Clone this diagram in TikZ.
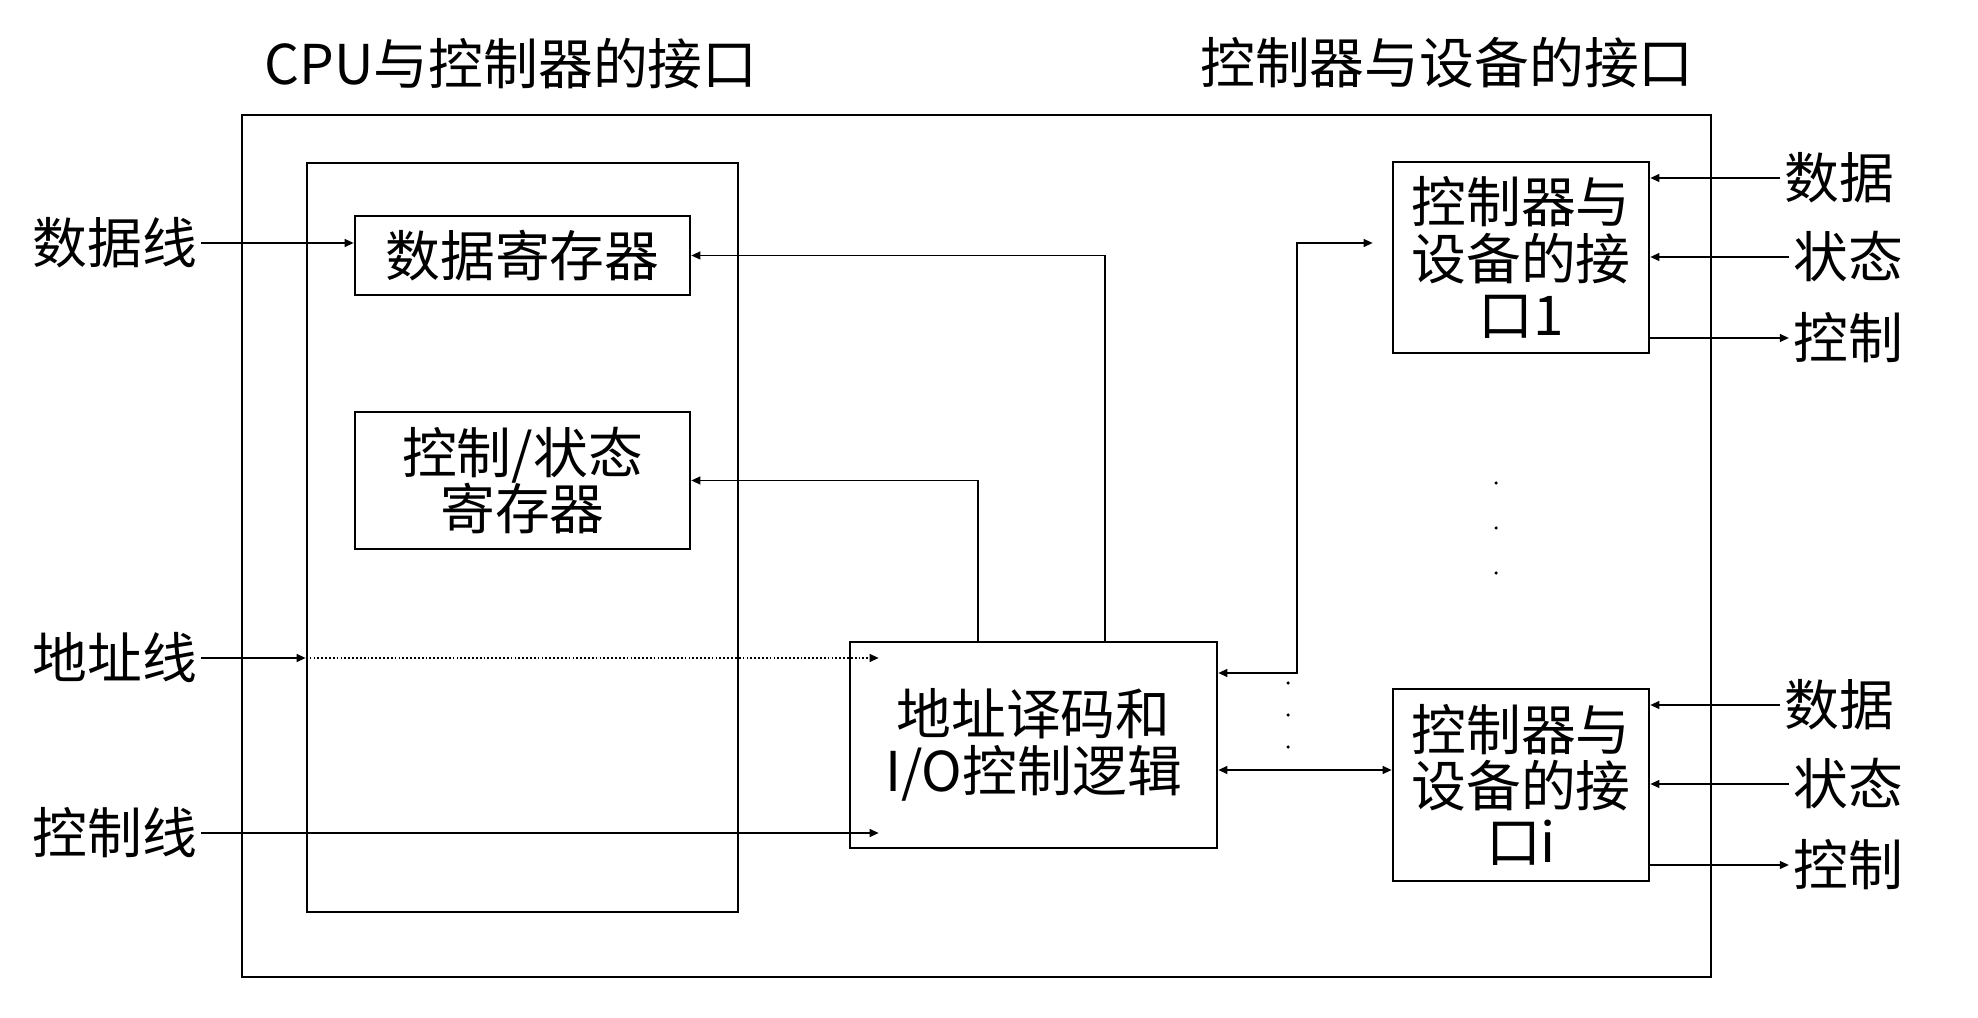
\documentclass[tikz,border=0pt]{standalone}
\usepackage{fontspec}
\setmainfont{Noto Sans CJK SC}
\usepackage{tikz}
\usetikzlibrary{arrows.meta, positioning, calc}
\tikzstyle{block} = [rectangle, draw=black, fill=none, line width=0.7pt, inner sep=2pt, align=center, font=\fontsize{15.6pt}{16pt}\selectfont]
\tikzstyle{heading} = [inner sep=1pt, font=\fontsize{15.6pt}{16pt}\selectfont]
\tikzstyle{siglabel} = [inner sep=1pt, font=\fontsize{15.6pt}{16pt}\selectfont]
\tikzstyle{arrow} = [line width=0.55pt, -{Triangle[length=2.6pt,width=2.2pt]}]
\tikzstyle{biarrow} = [line width=0.55pt, {Triangle[length=2.6pt,width=2.2pt]}-{Triangle[length=2.6pt,width=2.2pt]}]

\begin{document}
\begin{tikzpicture}[x=0.1mm, y=0.1mm]
        \useasboundingbox (0,0) rectangle (1978,1018);

        % --- titles ---
        \node [heading] (cputitle) at (511,954) {CPU与控制器的接口};
        \node [heading] (devtitle) at (1447,955) {控制器与设备的接口};

        % --- controller frame ---
        \node [block, minimum width=14.69cm, minimum height=8.62cm] (ctrl) at (976.5,472) {};
        \node [block, minimum width=4.31cm, minimum height=7.49cm] (cpuside) at (522.5,480.5) {};

        % --- registers ---
        \node [block, minimum width=3.35cm, minimum height=0.79cm] (datareg) at (522.5,762.5) {数据寄存器};
        \node [block, minimum width=3.35cm, minimum height=1.37cm] (ctrlreg) at (522.5,537.5) {控制/状态\\寄存器};

        % --- decoder ---
        \node [block, minimum width=3.67cm, minimum height=2.06cm] (decoder) at (1033.5,273) {地址译码和\\I/O控制逻辑};

        % --- device interfaces ---
        \node [block, minimum width=2.56cm, minimum height=1.91cm] (dev1) at (1521,760.5) {控制器与\\设备的接\\口1};
        \node [block, minimum width=2.56cm, minimum height=1.92cm] (devi) at (1521,233) {控制器与\\设备的接\\口i};

        % Draw Labels for CPU side
        \node [siglabel] (dataline) at (115,775) {数据线};
        \node [siglabel] (addrline) at (115,360) {地址线};
        \node [siglabel] (ctlline) at (115,185) {控制线};

        % Draw Labels for device side
        \node [siglabel] (dat1) at (1839,840) {数据};
        \node [siglabel] (sta1) at (1848,761) {状态};
        \node [siglabel] (cmd1) at (1848,680) {控制};
        \node [siglabel] (datI) at (1839,313) {数据};
        \node [siglabel] (staI) at (1848,234) {状态};
        \node [siglabel] (cmdI) at (1848,153) {控制};

        % Connect CPU side
        \coordinate (addrtip) at ($(addrline.east -| decoder.west)+(30,0)$);
        \coordinate (ctltip) at ($(ctlline.east -| decoder.west)+(30,0)$);
        \draw [arrow] (dataline.east) -- (dataline.east -| datareg.west);
        \draw [arrow] (addrline.east) -- (addrline.east -| cpuside.west);
        \draw [arrow, dash pattern=on 0.5pt off 0.6pt] (addrline.east -| cpuside.west) -- (addrtip);
        \draw [arrow] (ctlline.east) -- (ctltip);

        % Connect decoder to registers
        \draw [arrow] ($(decoder.north)+(71.5,0)$) |- (datareg.east);
        \draw [arrow] ($(decoder.north)+(-55.5,0)$) |- (ctrlreg.east);

        % Connect decoder to interfaces
        \coordinate (onelink) at ($(decoder.east)+(0,72)$);
        \coordinate (onetip) at ($(dev1.west)+(-19,14.5)$);
        \coordinate (ilink) at ($(decoder.east)+(0,-25)$);
        \draw [biarrow] (onelink) -- ++(79,0) |- (onetip);
        \draw [biarrow] (ilink) -- (ilink -| devi.west);

        % Connect interfaces to devices
        \draw [arrow] (dat1.west) -- (dat1.west -| dev1.east);
        \draw [arrow] (sta1.west) -- (sta1.west -| dev1.east);
        \draw [arrow] (cmd1.west -| dev1.east) -- (cmd1.west);
        \draw [arrow] (datI.west) -- (datI.west -| devi.east);
        \draw [arrow] (staI.west) -- (staI.west -| devi.east);
        \draw [arrow] (cmdI.west -| devi.east) -- (cmdI.west);

        % ellipsis dots
        \foreach \y in {535,490,445} \fill (1496,\y) circle (0.5pt);
        \foreach \y in {335,303,271} \fill (1288,\y) circle (0.5pt);
    \end{tikzpicture}
\end{document}
